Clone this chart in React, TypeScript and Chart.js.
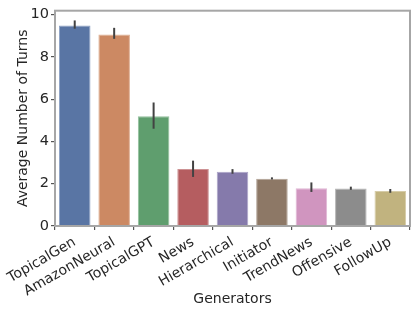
import React, { useEffect, useRef } from "react";
import { Chart, registerables } from "chart.js";

Chart.register(...registerables);

const categories = ["TopicalGen", "AmazonNeural", "TopicalGPT", "News", "Hierarchical", "Initiator", "TrendNews", "Offensive", "FollowUp"];
const values = [9.48, 9.06, 5.19, 2.69, 2.57, 2.24, 1.78, 1.77, 1.65];
const errLow = [9.33, 8.85, 4.6, 2.32, 2.47, 2.2, 1.61, 1.71, 1.57];
const errHigh = [9.72, 9.37, 5.84, 3.09, 2.69, 2.3, 2.06, 1.86, 1.75];
const colors = ["#5975a4", "#cc8963", "#5f9e6e", "#b55d60", "#857aab", "#8d7866", "#d095bf", "#8c8c8c", "#c1b37f"];
const edgeColors = ["#8ea2c4", "#dfb195", "#92c09d", "#cd9294", "#aca4c8", "#b2a396", "#e0b7d5", "#b4b4b4", "#d6cca8"];
const yTicks = [0, 2, 4, 6, 8, 10];

const FONT = "'DejaVu Sans', sans-serif";

const errorBarPlugin = {
  id: "errorBars",
  afterDatasetsDraw(chart: any) {
    const { ctx } = chart;
    const meta = chart.getDatasetMeta(0);
    const y = chart.scales.y;
    ctx.save();
    ctx.strokeStyle = "#424242";
    ctx.lineWidth = 2;
    meta.data.forEach((bar: any, i: number) => {
      ctx.beginPath();
      ctx.moveTo(bar.x, y.getPixelForValue(errLow[i]));
      ctx.lineTo(bar.x, y.getPixelForValue(errHigh[i]));
      ctx.stroke();
    });
    ctx.restore();
  },
};

const framePlugin = {
  id: "frame",
  afterDraw(chart: any) {
    const { ctx, chartArea } = chart;
    ctx.save();
    ctx.strokeStyle = "#a6a6a6";
    ctx.lineWidth = 2;
    ctx.strokeRect(chartArea.left, chartArea.top, chartArea.right - chartArea.left, chartArea.bottom - chartArea.top);
    ctx.restore();
  },
};

export default function App() {
  const ref = useRef<HTMLCanvasElement>(null);
  useEffect(() => {
    document.body.style.margin = "0";
    const chart = new Chart(ref.current!, {
      type: "bar",
      data: {
        labels: categories,
        datasets: [
          {
            data: values,
            backgroundColor: colors,
            borderColor: edgeColors,
            borderWidth: 1,
            categoryPercentage: 0.8,
            barPercentage: 1,
          },
        ],
      },
      options: {
        animation: false,
        responsive: false,
        maintainAspectRatio: false,
        layout: { padding: { left: 0, right: 5, top: 5, bottom: 0 } },
        plugins: { legend: { display: false }, tooltip: { enabled: false } },
        scales: {
          x: {
            grid: { display: true, drawOnChartArea: false, drawTicks: true, tickLength: 4, color: "#555", lineWidth: 1.2 },
            border: { display: false },
            ticks: { color: "#262626", font: { family: FONT, size: 14 }, maxRotation: 30, minRotation: 30, padding: 4, autoSkip: false },
            title: { display: true, text: "Generators", color: "#262626", font: { family: FONT, size: 14 }, padding: { top: 0, bottom: 4 } },
            afterFit: (s: any) => {
              s.height = 86;
            },
          },
          y: {
            min: 0,
            max: 10.18,
            grid: { display: true, drawOnChartArea: false, drawTicks: true, tickLength: 4, color: "#555", lineWidth: 1.2 },
            border: { display: false },
            ticks: { stepSize: 2, color: "#262626", font: { family: FONT, size: 14.5 }, padding: 2 },
            afterBuildTicks: (s: any) => {
              s.ticks = yTicks.map((v) => ({ value: v }));
            },
            title: { display: true, text: "Average Number of Turns", color: "#262626", font: { family: FONT, size: 14 }, padding: { top: 15, bottom: 0 } },
            afterFit: (s: any) => {
              s.width = 55;
            },
          },
        },
      },
      plugins: [errorBarPlugin, framePlugin],
    });
    return () => chart.destroy();
  }, []);
  return (
    <div style={{ position: "absolute", left: 0, top: 0, width: 415, height: 312 }}>
      <canvas ref={ref} width={415} height={312} style={{ width: 415, height: 312 }} />
    </div>
  );
}
